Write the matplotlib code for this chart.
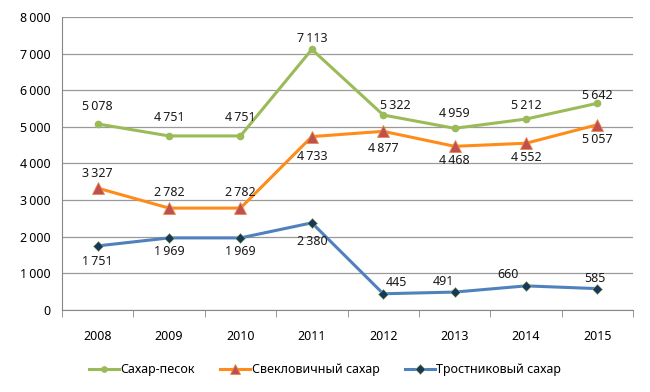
import matplotlib
matplotlib.use("Agg")
import matplotlib.pyplot as plt
from matplotlib.ticker import FuncFormatter, FixedLocator

plt.rcParams['font.family'] = ['Noto Sans', 'DejaVu Sans']

years = ['2008', '2009', '2010', '2011', '2012', '2013', '2014', '2015']
sugar_sand = [5078, 4751, 4751, 7113, 5322, 4959, 5212, 5642]
beet_sugar = [3327, 2782, 2782, 4733, 4877, 4468, 4552, 5057]
cane_sugar = [1751, 1969, 1969, 2380, 445, 491, 660, 585]
series_names = ['Сахар-песок', 'Свекловичный сахар', 'Тростниковый сахар']

# label offsets in pixels (dx, dy); positive dy = above
sand_off = [(0, 17), (0, 18), (0, 18), (0, 11), (12, 10), (0, 15), (0, 14), (0, 8)]
beet_off = [(0, 15), (0, 16), (0, 16), (0, -20), (0, -17), (0, -14), (0, -14), (0, -15)]
cane_off = [(0, -16), (0, -14), (0, -14), (0, -19), (13, 11), (-11, 11), (-18, 11), (-2, 10)]

def fmt(v):
    return f"{v:,}".replace(",", "\u2009") if v >= 1000 else str(v)

fig = plt.figure(figsize=(6.5, 3.92), dpi=100)
ax = fig.add_axes([0.0954, 0.209, 0.8786, 0.748])
x = list(range(len(years)))

ax.plot(x, sugar_sand, color='#9BBB59', lw=2.2, marker='o', ms=4.5,
        mfc='#9BBB59', mec='#9BBB59', label=series_names[0], zorder=3)
ax.plot(x, beet_sugar, color='#FF8C1A', lw=2.2, marker='^', ms=8,
        mfc='#C0504D', mec='#E8884A', mew=0.6, label=series_names[1], zorder=3)
ax.plot(x, cane_sugar, color='#4F81BD', lw=2.2, marker='D', ms=5.5,
        mfc='#17375E', mec='#9BBB59', mew=0.4, label=series_names[2], zorder=3)

def label(vals, offs):
    for i, (v, (dx, dy)) in enumerate(zip(vals, offs)):
        ax.annotate(fmt(v), (i, v), xytext=(dx * 0.72, dy * 0.72),
                    textcoords='offset points', ha='center', va='center',
                    fontsize=9, color='#1a1a1a')

label(sugar_sand, sand_off)
label(beet_sugar, beet_off)
label(cane_sugar, cane_off)

ax.set_xlim(-0.5, 7.5)
ax.set_ylim(0, 8000)
ax.set_yticks(range(0, 8001, 1000))
ax.yaxis.set_major_formatter(FuncFormatter(lambda v, p: fmt(int(v))))
ax.set_xticks(x)
ax.set_xticklabels(years)
ax.xaxis.set_minor_locator(FixedLocator([i - 0.5 for i in range(9)]))
ax.tick_params(axis='x', which='major', length=0, pad=14, labelsize=9)
ax.tick_params(axis='x', which='minor', length=5, direction='out', color='#868686')
ax.tick_params(axis='y', length=0, pad=8, labelsize=9)
ax.grid(axis='y', color='#9a9a9a', lw=0.9)
ax.set_axisbelow(True)
for s in ['top', 'right']:
    ax.spines[s].set_visible(False)
for s in ['left', 'bottom']:
    ax.spines[s].set_color('#868686')

fig.legend(loc='center', bbox_to_anchor=(0.5, 0.057), ncol=3, frameon=False,
           fontsize=9, handlelength=2.4, columnspacing=2.0, handletextpad=0.15,
           markerscale=0.85)

fig.savefig('out.png', dpi=100)
